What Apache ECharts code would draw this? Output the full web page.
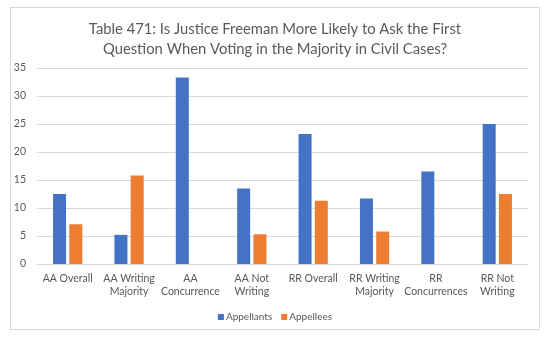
<!DOCTYPE html>
<html>
<head>
<meta charset="utf-8">
<script src="https://cdn.jsdelivr.net/npm/echarts@6/dist/echarts.min.js"></script>
<style>
  html, body { margin: 0; padding: 0; background: #ffffff; }
  #frame { position: absolute; left: 10px; top: 7px; width: 530px; height: 323px; border: 1px solid #d9d9d9; box-sizing: border-box; }
  #chart { position: absolute; left: 0; top: 0; width: 550px; height: 338px; }
</style>
</head>
<body>
<div id="frame"></div>
<div id="chart"></div>
<script>
// Vote categories along the x axis
const categories = [
  'AA Overall', 'AA Writing\nMajority', 'AA\nConcurrence', 'AA Not\nWriting',
  'RR Overall', 'RR Writing\nMajority', 'RR\nConcurrences', 'RR Not\nWriting'
];
// Percent of first questions asked, by party
const appellants = [12.5, 5.2, 33.3, 13.5, 23.2, 11.7, 16.5, 25.0];
const appellees  = [7.1, 15.8, 0, 5.3, 11.3, 5.8, 0, 12.5];
const seriesNames = ['Appellants', 'Appellees'];
const titleText = 'Table 471: Is Justice Freeman More Likely to Ask the First\nQuestion When Voting in the Majority in Civil Cases?';

const font = 'Lato';
const chart = echarts.init(document.getElementById('chart'), null, { renderer: 'canvas' });
chart.setOption({
  backgroundColor: 'transparent',
  animation: false,
  title: {
    text: titleText,
    left: 'center',
    top: 14,
    textStyle: { fontFamily: font, fontSize: 14.8, fontWeight: 'normal', color: '#595959', lineHeight: 20 }
  },
  legend: {
    data: seriesNames,
    top: 307,
    left: 'center',
    itemWidth: 6,
    itemHeight: 6,
    itemGap: 9,
    icon: 'rect',
    textStyle: { fontFamily: font, fontSize: 10, color: '#595959', padding: [0, 0, 0, -3] }
  },
  grid: { left: 37, right: 22, top: 68, bottom: 74, containLabel: false },
  xAxis: {
    type: 'category',
    data: categories,
    axisLine: { lineStyle: { color: '#d9d9d9' } },
    axisTick: { show: false },
    axisLabel: { fontFamily: font, fontSize: 10.5, color: '#595959', lineHeight: 13, margin: 8, interval: 0 }
  },
  yAxis: {
    type: 'value',
    min: 0, max: 35, interval: 5,
    axisLine: { show: false },
    axisTick: { show: false },
    splitLine: { lineStyle: { color: '#d9d9d9' } },
    axisLabel: { fontFamily: font, fontSize: 10.5, color: '#595959', margin: 11 }
  },
  series: [
    { name: seriesNames[0], type: 'bar', data: appellants, barWidth: 13, barGap: '25%', itemStyle: { color: '#4472c4' } },
    { name: seriesNames[1], type: 'bar', data: appellees, barWidth: 13, itemStyle: { color: '#ed7d31' } }
  ]
});
</script>
</body>
</html>
